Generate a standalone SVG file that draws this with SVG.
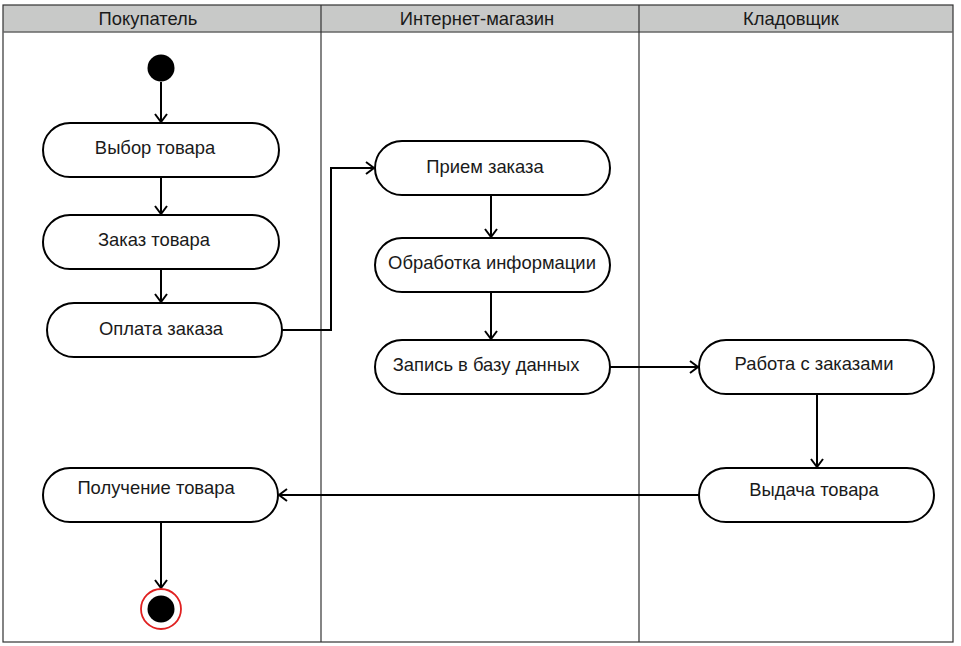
<svg xmlns="http://www.w3.org/2000/svg" width="961" height="646" viewBox="0 0 961 646">
<style>
.lbl{font-family:"Liberation Sans",Arial,sans-serif;font-size:18.4px;fill:#1a1a1a;text-anchor:middle}
.act{fill:#fff;stroke:#000;stroke-width:2}
.con{fill:none;stroke:#000;stroke-width:2}
.lane{stroke:#333;stroke-width:1.2;fill:none}
</style>
<defs>
<marker id="arr" viewBox="0 0 10 14" refX="9" refY="7" markerWidth="10" markerHeight="14" markerUnits="userSpaceOnUse" orient="auto">
<path d="M1,1 L9,7 L1,13" fill="none" stroke="#000" stroke-width="2"/>
</marker>
</defs>
<rect x="0" y="0" width="961" height="646" fill="#fff"/>
<g id="swimlanes">
<rect x="3" y="5" width="950" height="27" fill="#c8c9c8"/>
<rect x="3" y="5" width="950" height="637" class="lane"/>
<line x1="3" y1="32" x2="953" y2="32" stroke="#666" stroke-width="1.5"/>
<line x1="321" y1="5" x2="321" y2="642" class="lane"/>
<line x1="639" y1="5" x2="639" y2="642" class="lane"/>
<text class="lbl" x="148" y="25">Покупатель</text>
<text class="lbl" x="477" y="25">Интернет-магазин</text>
<text class="lbl" x="791" y="25">Кладовщик</text>
</g>
<g id="connectors">
<line class="con" x1="161" y1="82" x2="161" y2="122" marker-end="url(#arr)"/>
<line class="con" x1="161" y1="177" x2="161" y2="214" marker-end="url(#arr)"/>
<line class="con" x1="161" y1="269" x2="161" y2="302" marker-end="url(#arr)"/>
<polyline class="con" points="282,330 331,330 331,168 374,168" marker-end="url(#arr)"/>
<line class="con" x1="491" y1="195" x2="491" y2="237" marker-end="url(#arr)"/>
<line class="con" x1="491" y1="292" x2="491" y2="339" marker-end="url(#arr)"/>
<line class="con" x1="610" y1="367" x2="698" y2="367" marker-end="url(#arr)"/>
<line class="con" x1="817" y1="394" x2="817" y2="467" marker-end="url(#arr)"/>
<line class="con" x1="699" y1="495" x2="279" y2="495" marker-end="url(#arr)"/>
<line class="con" x1="161" y1="522" x2="161" y2="588" marker-end="url(#arr)"/>
</g>
<g id="start"><circle cx="161" cy="68" r="13.5" fill="#000"/></g>
<g id="n_vybor"><rect class="act" x="43" y="123" width="236" height="54" rx="27"/><text class="lbl" x="155" y="154">Выбор товара</text></g>
<g id="n_zakaz"><rect class="act" x="43" y="215" width="236" height="54" rx="27"/><text class="lbl" x="154" y="246">Заказ товара</text></g>
<g id="n_oplata"><rect class="act" x="47" y="303" width="235" height="54" rx="27"/><text class="lbl" x="161" y="335">Оплата заказа</text></g>
<g id="n_priem"><rect class="act" x="375" y="141" width="235" height="54" rx="27"/><text class="lbl" x="485" y="173">Прием заказа</text></g>
<g id="n_obrabotka"><rect class="act" x="375" y="238" width="235" height="54" rx="27"/><text class="lbl" x="492" y="269">Обработка информации</text></g>
<g id="n_zapis"><rect class="act" x="375" y="340" width="235" height="54" rx="27"/><text class="lbl" x="486" y="371">Запись в базу данных</text></g>
<g id="n_rabota"><rect class="act" x="699" y="340" width="235" height="54" rx="27"/><text class="lbl" x="814" y="370">Работа с заказами</text></g>
<g id="n_vydacha"><rect class="act" x="699" y="468" width="235" height="54" rx="27"/><text class="lbl" x="814" y="496">Выдача товара</text></g>
<g id="n_poluchenie"><rect class="act" x="43" y="468" width="235" height="54" rx="27"/><text class="lbl" x="156" y="494">Получение товара</text></g>
<g id="final"><circle cx="161" cy="609" r="20" fill="#fff" stroke="#e02020" stroke-width="1.8"/><circle cx="161" cy="609" r="13.5" fill="#000"/></g>
</svg>
